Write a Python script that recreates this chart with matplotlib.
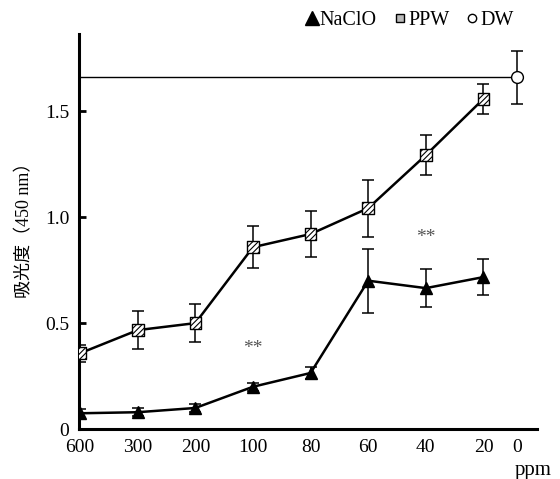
import numpy as np
import matplotlib
matplotlib.use('Agg')
import matplotlib.pyplot as plt
from matplotlib.lines import Line2D

plt.rcParams['font.family'] = ['Liberation Serif', 'Noto Sans CJK JP']
plt.rcParams['hatch.linewidth'] = 0.8

# data
conc_labels = ['600', '300', '200', '100', '80', '60', '40', '20', '0']
naclo = [0.075, 0.08, 0.10, 0.20, 0.265, 0.70, 0.665, 0.717]
naclo_err = [0.02, 0.02, 0.02, 0.02, 0.03, 0.15, 0.09, 0.085]
ppw = [0.358, 0.467, 0.50, 0.858, 0.92, 1.042, 1.292, 1.557]
ppw_err = [0.04, 0.09, 0.09, 0.10, 0.11, 0.135, 0.095, 0.07]
dw = 1.66
dw_err = 0.125

x = np.arange(len(naclo))
dw_x = 7.59

fig = plt.figure(figsize=(5.6, 4.79), dpi=100)
ax = fig.add_axes([0.141, 0.104, 0.818, 0.825])

# reference line for DW
ax.plot([x[0], dw_x], [dw, dw], color='black', lw=1.0, zorder=1)

ax.errorbar(x, ppw, yerr=ppw_err, color='black', lw=1.8, elinewidth=1.1,
            capsize=4, capthick=1.1, zorder=2)
ax.scatter(x, ppw, marker='s', s=70, facecolor='white', edgecolor='black',
           hatch='//////', linewidths=1.0, zorder=4)

ax.errorbar(x, naclo, yerr=naclo_err, color='black', lw=1.8, elinewidth=1.1,
            capsize=4, capthick=1.1, zorder=2)
ax.plot(x, naclo, linestyle='none', marker='^', markersize=9, color='black', zorder=4)

ax.errorbar([dw_x], [dw], yerr=[dw_err], color='black', elinewidth=1.1,
            capsize=4, capthick=1.1, zorder=2)
ax.plot([dw_x], [dw], marker='o', markersize=8.5, markerfacecolor='white',
        markeredgecolor='black', markeredgewidth=1.0, linestyle='none', zorder=4)

ax.text(3, 0.38, '**', ha='center', va='center', fontsize=14, color='#555555')
ax.text(6, 0.905, '**', ha='center', va='center', fontsize=14, color='#555555')

ax.set_xlim(-0.02, 7.93)
ax.set_ylim(0, 1.863)
ax.set_xticks(list(x) + [dw_x])
ax.set_xticklabels(conc_labels, fontsize=14)
ax.set_yticks([0, 0.5, 1.0, 1.5])
ax.set_yticklabels(['0', '0.5', '1.0', '1.5'], fontsize=14)
ax.tick_params(axis='x', length=0, pad=7)
ax.tick_params(axis='y', direction='in', length=5, width=2, pad=7)

for s in ['top', 'right']:
    ax.spines[s].set_visible(False)
for s in ['left', 'bottom']:
    ax.spines[s].set_linewidth(2.2)

ax.set_ylabel('吸光度（450 nm）', fontsize=13)
ax.yaxis.set_label_coords(-0.10, 0.515)
fig.text(0.952, 0.018, 'ppm', fontsize=15, ha='center', va='center')

handles = [
    Line2D([], [], marker='^', color='black', linestyle='none', markersize=10),
    Line2D([], [], marker='s', markerfacecolor='#bbbbbb', markeredgecolor='black',
           linestyle='none', markersize=6),
    Line2D([], [], marker='o', markerfacecolor='white', markeredgecolor='black',
           linestyle='none', markersize=6),
]
fig.legend(handles, ['NaClO', 'PPW', 'DW'], loc='upper right',
           bbox_to_anchor=(0.95, 1.015), ncol=3, frameon=False, fontsize=14.5,
           handlelength=0.7, handletextpad=0.05, columnspacing=0.8)

fig.savefig('out.png', dpi=100)
